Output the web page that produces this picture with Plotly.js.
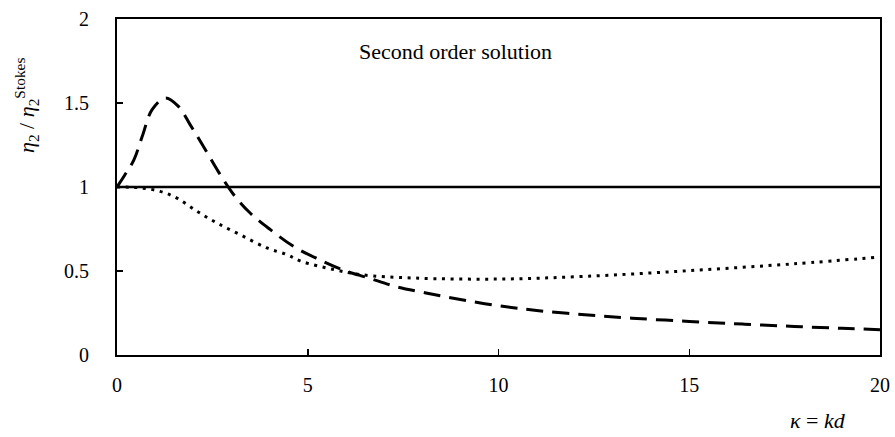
<!DOCTYPE html>
<html>
<head>
<meta charset="utf-8">
<script src="https://cdn.plot.ly/plotly-3.0.1.min.js"></script>
<style>html,body{margin:0;padding:0;background:#fff;}#chart{width:895px;height:437px;}</style>
</head>
<body>
<div id="chart"></div>
<script>
const solidX = [0, 20];
const solidY = [1, 1];

const dashedX = [0, 0.2, 0.44, 0.66, 0.92, 1.27, 1.61, 1.92, 2.27, 2.66, 3.06, 3.49, 4.02, 4.63, 5.24, 5.9, 6.6, 7.3, 8.1, 9.0, 10, 11, 12.26, 13.5, 15, 16.4, 17.75, 19, 20];
const dashedY = [1, 1.07, 1.16, 1.30, 1.46, 1.53, 1.48, 1.37, 1.24, 1.09, 0.954, 0.845, 0.746, 0.646, 0.574, 0.508, 0.458, 0.408, 0.369, 0.33, 0.293, 0.265, 0.24, 0.219, 0.2, 0.184, 0.170, 0.159, 0.151];

const dottedX = [0, 0.6, 1.13, 1.57, 2.1, 2.62, 3.23, 3.93, 4.46, 4.8, 5.7, 6.4, 7.8, 10, 12.26, 15, 17.75, 20];
const dottedY = [1, 0.995, 0.974, 0.934, 0.855, 0.786, 0.716, 0.637, 0.597, 0.56, 0.508, 0.478, 0.458, 0.452, 0.468, 0.502, 0.543, 0.583];

const xTicks = [0, 5, 10, 15, 20];
const yTicks = [0, 0.5, 1, 1.5, 2];
const yTickText = ['0', '0.5', '1', '1.5', '2'];

const fam = 'Liberation Serif, DejaVu Serif, serif';
const font = {family: fam, size: 20, color: '#000'};

const traces = [
  {x: solidX, y: solidY, mode: 'lines', line: {color: '#000', width: 2.5}, hoverinfo: 'skip'},
  {x: dashedX, y: dashedY, mode: 'lines', line: {color: '#000', width: 3, dash: '17px,9px', shape: 'spline'}, hoverinfo: 'skip'},
  {x: dottedX, y: dottedY, mode: 'lines', line: {color: '#000', width: 3, dash: '3px,5.6px', shape: 'spline'}, hoverinfo: 'skip'}
];

const L = 117, R = 15, T = 19, B = 82;
const pw = 895 - L - R, ph = 437 - T - B;
const px = v => (v - L) / pw;
const py = v => (437 - B - v) / ph;

const layout = {
  width: 895, height: 437,
  margin: {l: L, r: R, t: T, b: B},
  paper_bgcolor: '#fff', plot_bgcolor: '#fff',
  showlegend: false,
  font: font,
  xaxis: {
    range: [0, 20], tickvals: xTicks, ticktext: xTicks.map(String),
    showgrid: false, zeroline: false, showline: true, linecolor: '#000', linewidth: 2, mirror: true,
    ticks: 'inside', ticklen: 6, tickwidth: 1.5, tickcolor: '#000', ticklabelstandoff: 11,
    tickfont: font
  },
  yaxis: {
    range: [0, 2], tickvals: yTicks, ticktext: yTickText,
    showgrid: false, zeroline: false, showline: true, linecolor: '#000', linewidth: 2, mirror: true,
    ticks: 'inside', ticklen: 6, tickwidth: 1.5, tickcolor: '#000', ticklabelstandoff: 22,
    tickfont: font
  },
  annotations: [
    {x: 8.86, y: 1.805, xref: 'x', yref: 'y', xanchor: 'center', yanchor: 'middle', text: 'Second order solution', showarrow: false,
     font: {family: fam, size: 22, color: '#000'}},
    {x: px(818), y: py(420), xref: 'paper', yref: 'paper', xanchor: 'center', yanchor: 'middle', text: '<i>κ</i> = <i>kd</i>', showarrow: false,
     font: {family: fam, size: 22, color: '#000'}},
    {x: px(27), y: py(106), xref: 'paper', yref: 'paper', xanchor: 'center', yanchor: 'middle', textangle: -90,
     text: '<i>η</i><sub>2</sub> / <i>η</i><sub>2</sub><sup>Stokes</sup>', showarrow: false,
     font: {family: fam, size: 22, color: '#000'}}
  ]
};

Plotly.newPlot('chart', traces, layout, {staticPlot: true, displayModeBar: false});
</script>
</body>
</html>
